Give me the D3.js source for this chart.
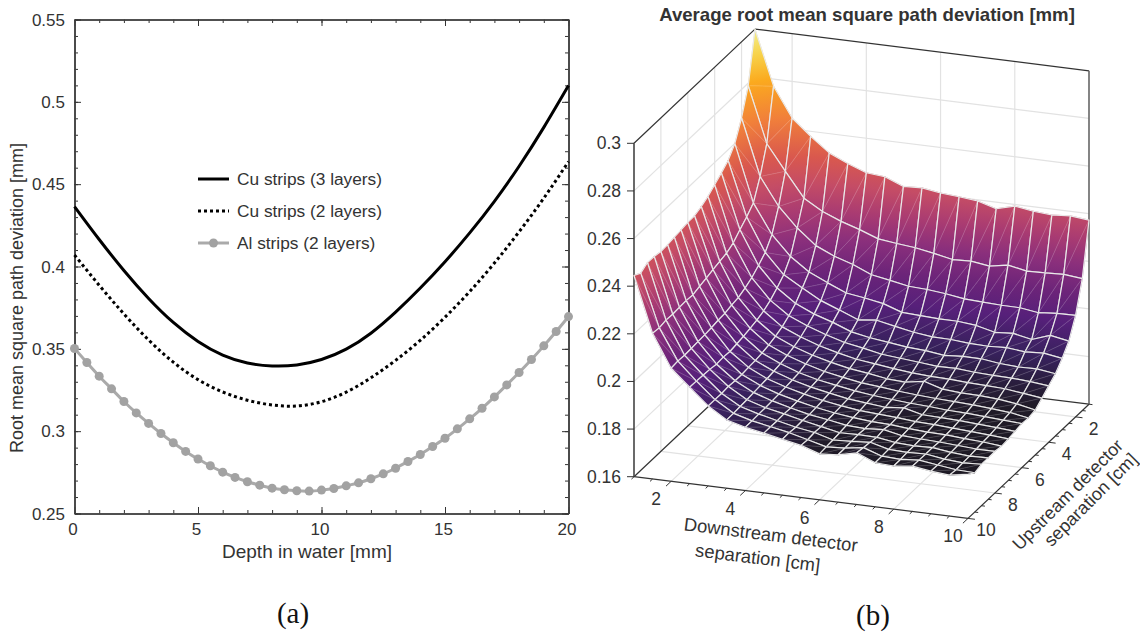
<!DOCTYPE html>
<html lang="en">
<head>
  <meta charset="UTF-8" />
  <title>RMS path deviation</title>
  <style>
    body { margin: 0; background: #fff; }
    svg { display: block; }
    text { font-family: "Liberation Sans", sans-serif; font-size: 17.5px; fill: #333; }
    .tag { font-family: "Liberation Serif", serif; font-size: 29px; fill: #111; }
  </style>
</head>
<body>
  <svg id="chart" width="1140" height="635"></svg>

  <script src="https://d3js.org/d3.v7.min.js"></script>
  <script>
    // panel (a)
    const depthInt = d3.range(0, 21);
    const cu3 = [.4364,.4164,.3976,.3806,.3660,.3545,.3462,.3414,.3396,.3402,.3435,.3498,.3595,.3723,.3869,.4029,.4204,.4396,.4609,.4845,.5099];
    const cu2 = [.4070,.3886,.3712,.3554,.3419,.3313,.3238,.3188,.3159,.3153,.3179,.3237,.3324,.3430,.3552,.3692,.3848,.4021,.4211,.4415,.4637];
    const depthAl = d3.range(0, 41).map(d => d / 2);
    const al2 = [.3502,.3417,.3334,.3257,.3180,.3111,.3047,.2986,.2930,.2877,.2831,.2790,.2751,.2719,.2693,.2672,.2654,.2644,.2638,.2636,.2642,.2652,.2668,.2686,.2711,.2741,.2775,.2816,.2858,.2907,.2957,.3014,.3075,.3139,.3208,.3281,.3356,.3435,.3518,.3605,.3696];
    const legendNames = ["Cu strips (3 layers)", "Cu strips (2 layers)", "Al strips (2 layers)"];

    // panel (b): rows are upstream separation, columns downstream separation
    const sep = d3.range(0, 19).map(d => 1 + d / 2);
    const zRows = [
      [.3000,.2770,.2646,.2579,.2519,.2484,.2455,.2448,.2417,.2421,.2409,.2403,.2395,.2372,.2393,.2381,.2375,.2381,.2373],
      [.2789,.2555,.2449,.2346,.2300,.2268,.2243,.2214,.2204,.2196,.2182,.2166,.2169,.2158,.2172,.2156,.2159,.2162,.2154],
      [.2680,.2444,.2328,.2247,.2183,.2148,.2123,.2090,.2076,.2061,.2057,.2049,.2037,.2033,.2030,.2029,.2018,.2025,.2026],
      [.2599,.2359,.2236,.2154,.2099,.2063,.2030,.2019,.2005,.1978,.1974,.1970,.1970,.1962,.1943,.1948,.1932,.1959,.1945],
      [.2555,.2327,.2188,.2104,.2058,.2015,.1985,.1954,.1962,.1946,.1931,.1921,.1920,.1913,.1911,.1915,.1907,.1911,.1899],
      [.2529,.2300,.2160,.2075,.2020,.1985,.1960,.1930,.1915,.1905,.1895,.1890,.1880,.1885,.1885,.1875,.1870,.1872,.1861],
      [.2506,.2271,.2135,.2050,.1995,.1962,.1935,.1912,.1898,.1882,.1875,.1868,.1860,.1862,.1855,.1852,.1850,.1845,.1837],
      [.2484,.2255,.2118,.2032,.1975,.1942,.1915,.1895,.1878,.1868,.1858,.1850,.1845,.1843,.1838,.1835,.1832,.1822,.1812],
      [.2468,.2247,.2105,.2020,.1962,.1928,.1902,.1882,.1865,.1855,.1842,.1838,.1851,.1828,.1822,.1820,.1815,.1805,.1789],
      [.2456,.2239,.2100,.2012,.1952,.1918,.1892,.1870,.1855,.1842,.1835,.1826,.1820,.1815,.1812,.1808,.1802,.1795,.1782],
      [.2455,.2230,.2092,.2005,.1945,.1910,.1882,.1862,.1848,.1835,.1825,.1818,.1812,.1808,.1802,.1800,.1795,.1790,.1785],
      [.2450,.2222,.2090,.2000,.1940,.1905,.1878,.1858,.1842,.1828,.1820,.1812,.1819,.1800,.1798,.1795,.1790,.1785,.1779],
      [.2446,.2213,.2085,.1995,.1938,.1900,.1875,.1855,.1838,.1825,.1815,.1810,.1805,.1798,.1795,.1790,.1785,.1780,.1774],
      [.2441,.2216,.2082,.1998,.1935,.1898,.1872,.1852,.1835,.1822,.1812,.1805,.1802,.1795,.1790,.1788,.1782,.1778,.1770],
      [.2439,.2214,.2080,.1995,.1935,.1895,.1870,.1850,.1832,.1820,.1806,.1802,.1808,.1792,.1788,.1785,.1780,.1775,.1775],
      [.2445,.2212,.2078,.2000,.1938,.1892,.1868,.1852,.1834,.1818,.1802,.1804,.1802,.1790,.1786,.1788,.1778,.1772,.1774],
      [.2446,.2214,.2076,.2002,.1935,.1890,.1868,.1850,.1832,.1820,.1798,.1802,.1808,.1788,.1785,.1788,.1776,.1770,.1774],
      [.2428,.2208,.2078,.2004,.1936,.1888,.1866,.1851,.1836,.1816,.1796,.1800,.1812,.1786,.1782,.1789,.1778,.1768,.1765],
      [.2445,.2212,.2075,.2005,.1936,.1887,.1866,.1851,.1835,.1819,.1793,.1799,.1817,.1785,.1781,.1790,.1779,.1772,.1785]
    ];
    const zTicks = [.16,.18,.2,.22,.24,.26,.28,.3];
    const sepTicks = [2,4,6,8,10];
    const cmapStops = [0,.07,.143,.214,.286,.357,.43,.5,.571,.643,.75,.857,.93,1];
    const cmapColors = ["#121214","#18171c","#201b28","#37215c","#56207a","#6c2479","#8a2f7c","#a93b72","#c44c66","#d9584e","#f1803a","#fbaa1e","#f7d24a","#f3ef8e"];

    const svg = d3.select("#chart");
    const fmt = d => String(+d.toFixed(2));

    // ---- panel (a) ----
    const x = d3.scaleLinear().domain([0, 20]).range([74.5, 568.5]);
    const y = d3.scaleLinear().domain([.25, .55]).range([513.5, 19.5]);
    const left = svg.append("g");

    function inwardAxis(axis, pos, vals, size) {
      const g = left.append("g").attr("transform", pos)
        .call(axis.tickValues(vals).tickSize(size).tickSizeOuter(0).tickFormat(""));
      g.selectAll("path").attr("stroke", "#444").attr("stroke-width", 1.6);
      g.selectAll("line").attr("stroke", "#333").attr("stroke-width", 1);
      return g;
    }
    const xMinor = d3.range(0, 21), yMinor = d3.range(25, 56).map(d => d / 100);
    const xMajor = d3.range(0, 21, 5), yMajor = d3.range(25, 56, 5).map(d => d / 100);
    inwardAxis(d3.axisTop(x), "translate(0,513.5)", xMinor, 3.5);
    inwardAxis(d3.axisBottom(x), "translate(0,19.5)", xMinor, 3.5);
    inwardAxis(d3.axisRight(y), "translate(74.5,0)", yMinor, 3.5);
    inwardAxis(d3.axisLeft(y), "translate(568.5,0)", yMinor, 3.5);
    inwardAxis(d3.axisTop(x), "translate(0,513.5)", xMajor, 6.5);
    inwardAxis(d3.axisBottom(x), "translate(0,19.5)", xMajor, 6.5);
    inwardAxis(d3.axisRight(y), "translate(74.5,0)", yMajor, 6.5);
    inwardAxis(d3.axisLeft(y), "translate(568.5,0)", yMajor, 6.5);

    left.selectAll(".xl").data(xMajor).join("text")
      .attr("x", d => x(d) - 1.5).attr("y", 535).attr("text-anchor", "middle")
      .style("font-size", "17px").text(d => d);
    left.selectAll(".yl").data(yMajor).join("text")
      .attr("x", 65).attr("y", d => y(d) + 6).attr("text-anchor", "end")
      .style("font-size", "17px").text(fmt);
    left.append("text").attr("x", 307).attr("y", 558).attr("text-anchor", "middle")
      .text("Depth in water [mm]").style("font-size", "19px");
    left.append("text").attr("transform", "translate(23,298) rotate(-90)").attr("text-anchor", "middle")
      .text("Root mean square path deviation [mm]").style("font-size", "18px");

    const smooth = d3.line().x(d => x(d[0])).y(d => y(d[1])).curve(d3.curveNatural);
    const styles = [
      { stroke: "#000", width: 3, dash: null },
      { stroke: "#000", width: 3, dash: "3 3" },
      { stroke: "#aaa", width: 3, dash: null }
    ];
    [d3.zip(depthInt, cu3), d3.zip(depthInt, cu2), d3.zip(depthAl, al2)].forEach((pts, k) => {
      left.append("path").attr("d", smooth(pts)).attr("fill", "none")
        .attr("stroke", styles[k].stroke).attr("stroke-width", styles[k].width)
        .attr("stroke-dasharray", styles[k].dash);
    });
    left.selectAll(".al").data(d3.zip(depthAl, al2)).join("circle")
      .attr("cx", d => x(d[0])).attr("cy", d => y(d[1])).attr("r", 4.5).attr("fill", "#a2a2a2");

    legendNames.forEach((name, k) => {
      const ly = [179, 211, 243][k];
      left.append("line").attr("x1", 198).attr("x2", 229).attr("y1", ly).attr("y2", ly)
        .attr("stroke", styles[k].stroke).attr("stroke-width", styles[k].width)
        .attr("stroke-dasharray", styles[k].dash);
      left.append("text").attr("x", 237).attr("y", ly + 6).style("font-size", "17.3px").text(name);
    });
    left.append("circle").attr("cx", 213.5).attr("cy", 243).attr("r", 4.5).attr("fill", "#a2a2a2");
    svg.append("text").attr("class", "tag").attr("x", 293).attr("y", 623).attr("text-anchor", "middle").text("(a)");

    // ---- panel (b) ----
    const u = d3.scaleLinear().domain([1, 10]).range([0, 1]);
    const v = d3.scaleLinear().domain([1, 10]).range([0, 1]);
    const h = d3.scaleLinear().domain([.16, .3]).range([0, 333.4]);
    const project = (a, b, c) => [
      755 + 334 * u(a) - 121 * v(b),
      362.5 + 41.7 * u(a) + 114.2 * v(b) - h(c)
    ];
    const right = svg.append("g");
    const pathOf = pts => "M" + pts.map(p => p.join(",")).join("L");
    const seg = (a, b, stroke, width) => right.append("path").attr("d", pathOf([a, b]))
      .attr("fill", "none").attr("stroke", stroke).attr("stroke-width", width);

    const defs = svg.append("defs");
    const cmapGrad = defs.append("linearGradient").attr("id", "cmap");
    cmapStops.forEach((s, k) => cmapGrad.append("stop").attr("offset", s).attr("stop-color", cmapColors[k]));

    // walls and floor grid
    const gridColor = "#e2e2e2";
    [2,4,6,8].forEach(t => {
      seg(project(t, 1, .16), project(t, 1, .3), gridColor, 1.2);
      seg(project(1, t, .16), project(1, t, .3), gridColor, 1.2);
      seg(project(t, 1, .16), project(t, 10, .16), gridColor, 1.2);
      seg(project(1, t, .16), project(10, t, .16), gridColor, 1.2);
    });
    zTicks.slice(1, -1).forEach(t => {
      seg(project(1, 10, t), project(1, 1, t), gridColor, 1.2);
      seg(project(1, 1, t), project(10, 1, t), gridColor, 1.2);
    });

    // box edges behind the surface
    seg(project(1, 10, .3), project(1, 1, .3), "#333", 1.2);
    seg(project(1, 1, .3), project(10, 1, .3), "#333", 1.2);
    seg(project(1, 10, .16), project(1, 1, .16), "#333", 1.2);
    seg(project(1, 1, .16), project(10, 1, .16), "#333", 1.2);
    seg(project(1, 10, .16), project(1, 10, .3), "#444", 1.6);
    seg(project(10, 1, .16), project(10, 1, .3), "#666", 1.6);
    seg(project(1, 10, .16), project(10, 10, .16), "#333", 1.2);
    seg(project(10, 10, .16), project(10, 1, .16), "#333", 1.2);

    // axis ticks and tick labels
    const ux = [334 / 336.6, 41.7 / 336.6], uy = [-121 / 166.3, 114.2 / 166.3];
    sep.forEach(t => {
      const len = t % 2 === 0 ? 7 : 3.5;
      const a = project(t, 10, .16), b = project(10, t, .16);
      seg(a, [a[0] + uy[0] * len, a[1] + uy[1] * len], "#333", 1);
      seg(b, [b[0] + ux[0] * len, b[1] + ux[1] * len], "#333", 1);
    });
    sepTicks.forEach(t => {
      const a = project(t, 10, .16), b = project(10, t, .16);
      right.append("text").attr("x", a[0] - 15).attr("y", a[1] + 24).attr("text-anchor", "middle").text(t);
      right.append("text").attr("x", b[0] + 18).attr("y", b[1] + 18).attr("text-anchor", "middle").text(t);
    });
    zTicks.forEach(t => {
      const p = project(1, 10, t);
      seg([p[0] - 7, p[1]], p, "#333", 1);
      right.append("text").attr("x", p[0] - 13).attr("y", p[1] + 6).attr("text-anchor", "end").text(fmt(t));
    });

    right.append("text").attr("x", 867).attr("y", 21).attr("text-anchor", "middle")
      .style("font-weight", "bold").style("font-size", "18.6px").text("Average root mean square path deviation [mm]");
    const xLabel = right.append("g").attr("text-anchor", "middle");
    xLabel.append("text").style("font-size", "18.4px").attr("transform", "translate(770,541) rotate(7.1)").text("Downstream detector");
    xLabel.append("text").style("font-size", "18.4px").attr("transform", "translate(757,564) rotate(7.1)").text("separation [cm]");
    const yLabel = right.append("g").attr("text-anchor", "middle");
    yLabel.append("text").style("font-size", "18px").attr("transform", "translate(1072,499) rotate(-45)").text("Upstream detector");
    yLabel.append("text").style("font-size", "18px").attr("transform", "translate(1095,504) rotate(-45)").text("separation [cm]");
    svg.append("text").attr("class", "tag").attr("x", 873).attr("y", 625).attr("text-anchor", "middle").text("(b)");

    // surface, painted from the far corner forward
    let gradId = 0;
    function triangle(g, pts, zs) {
      const [p0, p1, p2] = pts;
      const dx1 = p1[0] - p0[0], dy1 = p1[1] - p0[1], dz1 = zs[1] - zs[0];
      const dx2 = p2[0] - p0[0], dy2 = p2[1] - p0[1], dz2 = zs[2] - zs[0];
      const det = dx1 * dy2 - dx2 * dy1;
      const a = (dz1 * dy2 - dz2 * dy1) / det, b = (dx1 * dz2 - dx2 * dz1) / det;
      const n = a * a + b * b;
      const id = "t" + (gradId++);
      const s0 = (.16 - zs[0]) / n, s1 = (.3 - zs[0]) / n;
      defs.append("linearGradient").attr("id", id).attr("href", "#cmap")
        .attr("gradientUnits", "userSpaceOnUse")
        .attr("x1", p0[0] + a * s0).attr("y1", p0[1] + b * s0)
        .attr("x2", p0[0] + a * s1).attr("y2", p0[1] + b * s1);
      g.append("path").attr("d", pathOf(pts) + "Z")
        .attr("fill", `url(#${id})`).attr("stroke", `url(#${id})`).attr("stroke-width", .6);
    }
    const surface = right.append("g");
    for (let j = 0; j < sep.length - 1; j++) {
      for (let i = 0; i < sep.length - 1; i++) {
        const g = surface.append("g");
        const A = project(sep[i], sep[j], zRows[j][i]);
        const B = project(sep[i + 1], sep[j], zRows[j][i + 1]);
        const C = project(sep[i + 1], sep[j + 1], zRows[j + 1][i + 1]);
        const D = project(sep[i], sep[j + 1], zRows[j + 1][i]);
        triangle(g, [A, B, D], [zRows[j][i], zRows[j][i + 1], zRows[j + 1][i]]);
        triangle(g, [B, C, D], [zRows[j][i + 1], zRows[j + 1][i + 1], zRows[j + 1][i]]);
        g.append("path").attr("d", pathOf([B, D])).attr("fill", "none")
          .attr("stroke", "#fff").attr("stroke-opacity", .22).attr("stroke-width", .7);
        g.append("path").attr("d", pathOf([A, B, C, D]) + "Z").attr("fill", "none")
          .attr("stroke", "#e9e9e9").attr("stroke-width", 1.2).attr("stroke-linejoin", "round");
      }
    }
  </script>
</body>
</html>
